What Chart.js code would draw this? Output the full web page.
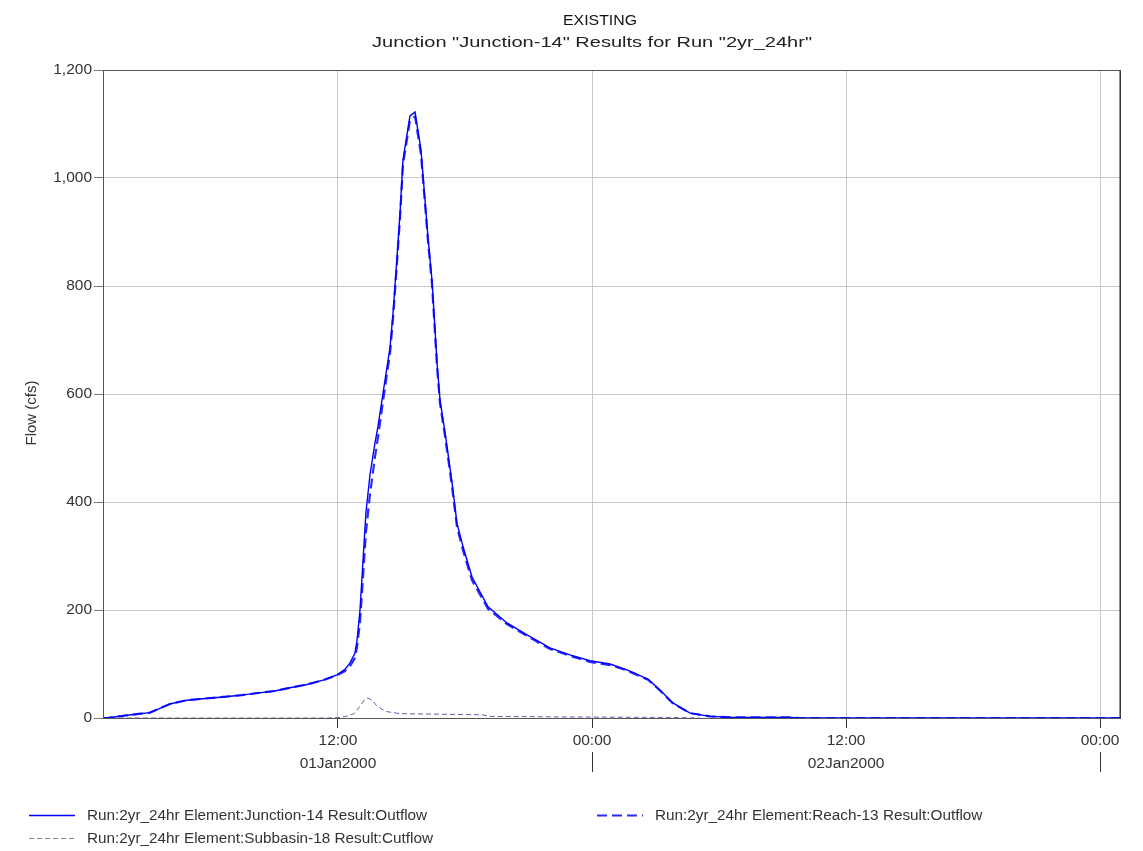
<!DOCTYPE html>
<html>
<head>
<meta charset="utf-8">
<script src="https://cdn.jsdelivr.net/npm/chart.js@4"></script>
<style>
  html, body { margin: 0; padding: 0; background: #fff; }
  #wrap { width: 1143px; height: 851px; }
</style>
</head>
<body>
<div id="wrap"><canvas id="c" width="1143" height="851"></canvas></div>
<script>
// hours counted from 01Jan2000 00:00
const junctionHours = [0.9, 1.09, 2.03, 3.12, 3.59, 4.06, 4.87, 5.72, 6.57, 7.37, 8.17, 9.02, 9.73, 10.54, 11.29, 11.95,
  12.33, 12.57, 12.8, 12.9, 13.04, 13.18, 13.32, 13.51, 13.75, 13.89, 14.13, 14.46, 14.6, 14.79, 14.93, 15.07, 15.4, 15.64,
  15.92, 16.11, 16.25, 16.44, 16.68, 16.82, 17.06, 17.39, 17.62, 17.91, 18.33, 19.09, 19.98, 20.93, 22.01, 22.96, 23.9,
  24.85, 25.65, 26.64, 27.21, 27.82, 28.63, 29.57, 30.66, 33.35, 33.82, 48.94];
const junctionFlow = [0, 0, 5, 10, 18, 26, 33, 36, 39, 42, 46, 50, 56, 62, 70, 80,
  90, 102, 120, 144, 200, 290, 380, 450, 510, 540, 602, 687, 750, 854, 935, 1033, 1115, 1122,
  1052, 959, 891, 811, 657, 589, 528, 435, 361, 317, 261, 206, 176, 154, 130, 117, 106,
  100, 89, 72, 52, 28, 9, 3, 1, 1, 0, 0];
const reachFlow = [0, 0, 5, 10, 18, 26, 33, 36, 39, 42, 46, 50, 56, 62, 70, 79,
  87, 96, 111, 132, 178, 260, 344, 414, 484, 520, 588, 676, 740, 845, 927, 1025, 1107, 1114,
  1044, 952, 884, 804, 650, 582, 521, 428, 354, 310, 255, 202, 174, 152, 128, 115, 104,
  98, 88, 71, 51, 27, 9, 3, 1, 1, 0, 0];
const subbasinHours = [0.9, 11.5, 12.1, 12.38, 12.76, 13.04, 13.28, 13.42, 13.61, 13.84, 14.27, 14.93, 16.82, 18.8, 19.18, 22.49, 27.68, 29.1];
const subbasinFlow = [0, 0, 1, 3, 8, 22, 35, 37, 33, 22, 12, 8, 7, 6, 3, 2, 1, 0];

const hourTicks = [12, 24, 36, 48];
const hourLabels = ["12:00", "00:00", "12:00", "00:00"];
const dateLabels = ["01Jan2000", "", "02Jan2000", ""];
const dayBreaks = [24, 48];

const seriesNames = [
  "Run:2yr_24hr Element:Junction-14 Result:Outflow",
  "Run:2yr_24hr Element:Reach-13 Result:Outflow",
  "Run:2yr_24hr Element:Subbasin-18 Result:Cutflow",
];
const titleText = "EXISTING";
const subtitleText = 'Junction "Junction-14" Results for Run "2yr_24hr"';

const FONT = "'Liberation Sans', Arial, sans-serif";
Chart.defaults.font.family = FONT;
Chart.defaults.font.size = 15.5;
Chart.defaults.color = "#333";

const pts = (xs, ys) => xs.map((x, i) => ({ x, y: ys[i] }));

// text squeezed/stretched to a given width, the way the source graph renders it
function fitText(ctx, text, cx, cy, size, width, color) {
  ctx.save();
  ctx.font = size + "px " + FONT;
  ctx.fillStyle = color;
  ctx.textAlign = "center";
  ctx.textBaseline = "middle";
  const sx = width / ctx.measureText(text).width;
  ctx.translate(cx, cy);
  ctx.scale(sx, 1);
  ctx.fillText(text, 0, 0);
  ctx.restore();
}

// titles, frame, day-break ticks, y title and legend
const extras = {
  id: "hmsExtras",
  afterDraw(chart) {
    const ctx = chart.ctx;
    const a = chart.chartArea;
    const xs = chart.scales.x;
    ctx.save();
    fitText(ctx, titleText, 600, 21, 15, 74, "#111");
    fitText(ctx, subtitleText, 592, 43, 15.5, 440, "#222");

    ctx.strokeStyle = "#555";
    ctx.lineWidth = 1;
    ctx.strokeRect(a.left + 0.5, a.top + 0.5, a.right - a.left, a.bottom - a.top);
    ctx.strokeStyle = "#222";
    ctx.beginPath();
    ctx.moveTo(a.right, a.top);
    ctx.lineTo(a.right, a.bottom);
    ctx.stroke();
    ctx.strokeStyle = "#333";
    dayBreaks.forEach((h) => {
      const px = Math.round(xs.getPixelForValue(h)) + 0.5;
      ctx.beginPath();
      ctx.moveTo(px, 752);
      ctx.lineTo(px, 772);
      ctx.stroke();
    });

    ctx.fillStyle = "#333";
    ctx.font = "15px " + FONT;
    ctx.textBaseline = "middle";
    ctx.save();
    ctx.translate(32, 413);
    ctx.rotate(-Math.PI / 2);
    ctx.textAlign = "center";
    ctx.fillText("Flow (cfs)", 0, 0);
    ctx.restore();

    const slots = [
      { x: 29, y: 815 },
      { x: 597, y: 815 },
      { x: 29, y: 838 },
    ];
    ctx.font = "15.3px " + FONT;
    chart.data.datasets.forEach((ds, i) => {
      const s = slots[i];
      ctx.save();
      ctx.strokeStyle = ds.legendColor || ds.borderColor;
      ctx.lineWidth = ds.borderWidth;
      ctx.setLineDash(ds.borderDash || []);
      ctx.beginPath();
      ctx.moveTo(s.x, s.y + 0.5);
      ctx.lineTo(s.x + 46, s.y + 0.5);
      ctx.stroke();
      ctx.restore();
      ctx.textAlign = "left";
      ctx.fillText(ds.label, s.x + 58, s.y + 1);
    });
    ctx.restore();
  },
};

new Chart(document.getElementById("c"), {
  type: "line",
  data: {
    datasets: [
      {
        label: seriesNames[0],
        data: pts(junctionHours, junctionFlow),
        borderColor: "#0000ff",
        borderWidth: 1.4,
        order: 0,
      },
      {
        label: seriesNames[1],
        data: pts(junctionHours, reachFlow),
        borderColor: "#2a2aff",
        borderWidth: 2.2,
        borderDash: [10, 5],
        order: 1,
      },
      {
        label: seriesNames[2],
        data: pts(subbasinHours, subbasinFlow),
        borderColor: "#6262a6",
        legendColor: "#888",
        borderWidth: 1,
        borderDash: [5, 3],
        order: 2,
      },
    ],
  },
  options: {
    responsive: false,
    animation: false,
    layout: { padding: { left: 0, right: 23, top: 70, bottom: 63 } },
    elements: { point: { radius: 0 }, line: { tension: 0 } },
    plugins: {
      legend: { display: false },
      tooltip: { enabled: false },
    },
    scales: {
      x: {
        type: "linear",
        min: 0.9,
        max: 48.94,
        afterBuildTicks: (scale) => {
          scale.ticks = hourTicks.map((v) => ({ value: v }));
        },
        afterFit: (scale) => {
          scale.height = 70;
        },
        ticks: {
          autoSkip: false,
          maxRotation: 0,
          padding: 1,
          font: { size: 15.5, lineHeight: 1.5 },
          callback: (v) => {
            const i = hourTicks.indexOf(v);
            return dateLabels[i] ? [hourLabels[i], dateLabels[i]] : hourLabels[i];
          },
        },
        grid: {
          color: "#c8c8c8",
          tickColor: "#333",
          tickLength: 10,
        },
        border: { color: "#333" },
      },
      y: {
        min: 0,
        max: 1200,
        afterFit: (scale) => {
          scale.width = 103;
        },
        ticks: {
          stepSize: 200,
          padding: 2,
          callback: (v) => v.toLocaleString("en-US"),
        },
        grid: {
          color: "#c8c8c8",
          tickColor: "#777",
          tickLength: 9,
        },
        border: { color: "#444" },
      },
    },
  },
  plugins: [extras],
});
</script>
</body>
</html>
